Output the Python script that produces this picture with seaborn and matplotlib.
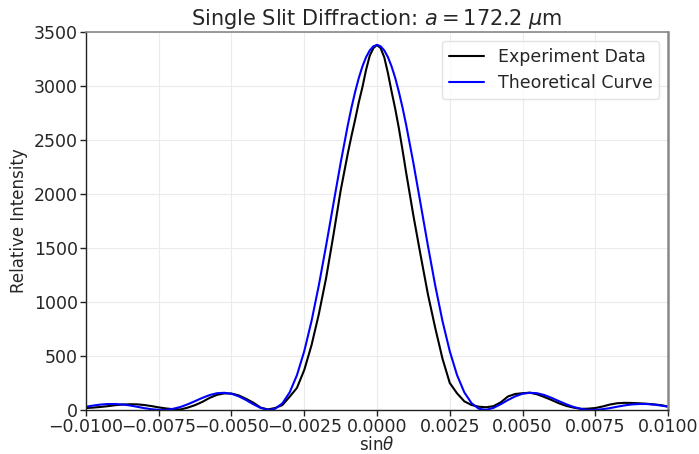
import matplotlib
matplotlib.use("Agg")
import matplotlib.pyplot as plt
import numpy as np
import pandas as pd
import seaborn as sns
from matplotlib.ticker import MultipleLocator, FuncFormatter


sns.set_theme(style="whitegrid")
plt.rcParams["font.family"] = ["DejaVu Sans"]
plt.rcParams["mathtext.fontset"] = "dejavusans"

# sin(theta) sample positions: steps of 0.00025, plus half steps around the peak
coarse = np.arange(-40, 41) * 0.00025
fine = np.arange(-7, 8, 2) * 0.000125
sin_theta = np.round(np.sort(np.concatenate([coarse, fine])), 6)

experiment = [
    18, 22, 28, 35, 44, 50, 53, 52, 46, 36,
    24, 14, 7, 5, 22, 45, 75, 112, 140, 153,
    152, 135, 103, 68, 22, 5, 18, 46, 123, 205,
    370, 600, 886, 1220, 1615, 2030,
    2380, 2540, 2690, 2850, 2990, 3150, 3280, 3350,
    3380,
    3350, 3265, 3120, 2950, 2790, 2610, 2410, 2200,
    1800, 1430, 1070, 760, 475, 250,
    154, 80, 46, 30, 25, 35, 70, 125, 148, 155,
    160, 145, 120, 92, 62, 38, 22, 10, 12, 18,
    32, 50, 62, 66, 65, 62, 58, 52, 45, 32,
]

# theoretical curve, centre outwards (symmetric)
theory_half = [
    3380, 3367, 3329, 3267, 3182, 3075, 2947, 2802, 2642,
    2287, 1905, 1520, 1153, 823,
    544, 323, 163, 62, 11, 1, 19, 53, 92, 126,
    150, 159, 155, 138, 112, 82, 53, 28, 11, 1,
    1, 7, 17, 30, 42, 51, 55, 55, 50, 41,
    30,
]
theory = theory_half[:0:-1] + theory_half

df = pd.DataFrame({"sin": sin_theta, "exp": experiment, "theory": theory})

fig = plt.figure(figsize=(6.99, 4.54), dpi=100)
ax = fig.add_axes([0.123, 0.097, 0.8327, 0.8326])

sns.lineplot(data=df, x="sin", y="exp", color="black", linewidth=1.5,
             label="Experiment Data", ax=ax)
sns.lineplot(data=df, x="sin", y="theory", color="#0000ff", linewidth=1.5,
             label="Theoretical Curve", ax=ax)

ax.set_xlim(-0.01, 0.01)
ax.set_ylim(0, 3500)
ax.xaxis.set_major_locator(MultipleLocator(0.0025))
ax.yaxis.set_major_locator(MultipleLocator(500))
ax.xaxis.set_major_formatter(FuncFormatter(lambda v, p: f"{v:.4f}".replace("-", "\u2212")))
ax.tick_params(axis="both", labelsize=12.5, direction="out", length=4, width=1,
               color="#222222", bottom=True, left=True, pad=2)
ax.grid(True, color="#ebebeb", linewidth=0.8)

ax.set_title(r"Single Slit Diffraction: $a = 172.2\ \mu$m", fontsize=15, pad=5)
ax.set_xlabel(r"sin$\theta$", fontsize=12, labelpad=0)
ax.set_ylabel("Relative Intensity", fontsize=12, labelpad=4)

for side in ["left", "bottom"]:
    ax.spines[side].set_color("#222222")
    ax.spines[side].set_linewidth(1.0)
ax.spines["top"].set_color("#888888")
ax.spines["top"].set_linewidth(1.2)
ax.spines["right"].set_color("#888888")
ax.spines["right"].set_linewidth(1.8)

leg = ax.legend(loc="upper right", fontsize=12.5, frameon=True, fancybox=True,
                borderaxespad=0.5)
leg.get_frame().set_edgecolor("#dddddd")

fig.savefig("out.png", dpi=100)
plt.close(fig)
